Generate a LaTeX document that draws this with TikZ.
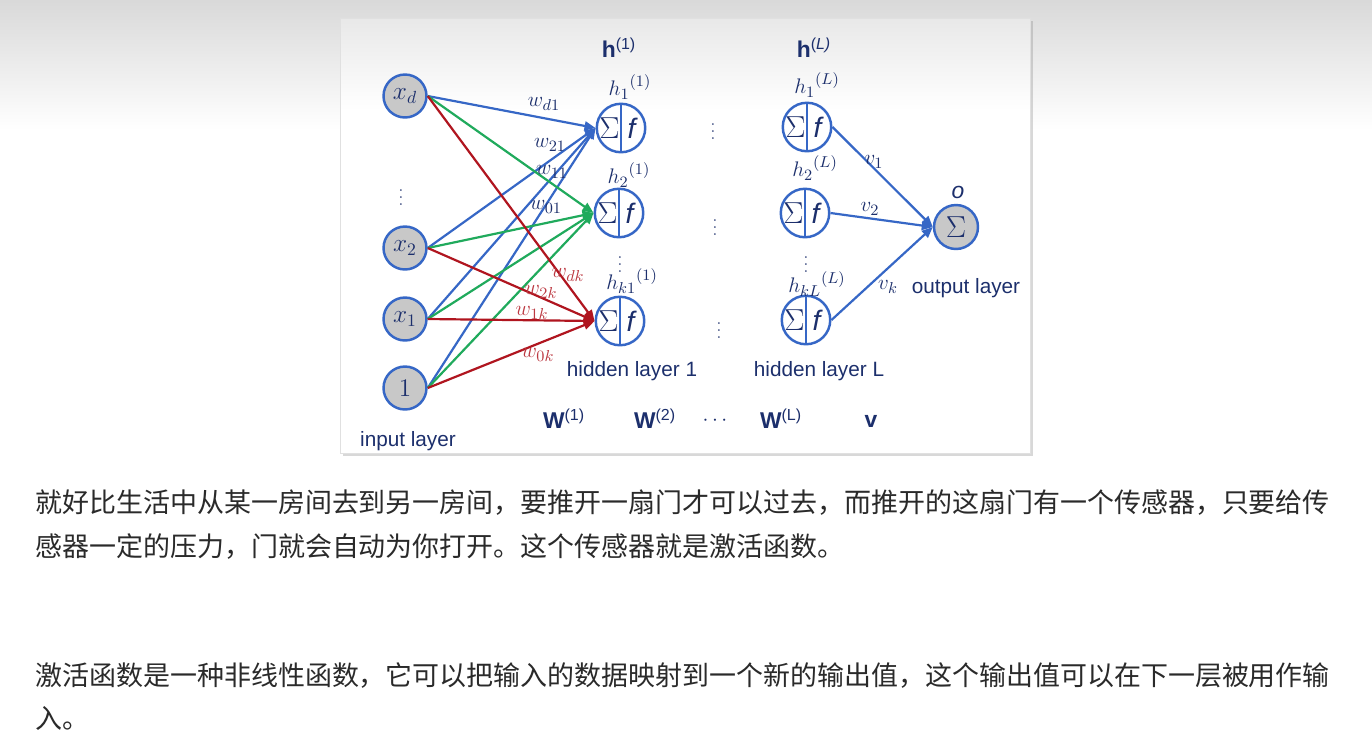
\documentclass[tikz,border=0pt]{standalone}
\usepackage{fontspec}
\setsansfont{Liberation Sans}
\newfontfamily\cjkfont{Noto Sans CJK SC}
\usepackage{xcolor}
\usetikzlibrary{arrows.meta,shadows}
\definecolor{NetBlue}{HTML}{3667C6}
\definecolor{NetGreen}{HTML}{20AA5C}
\definecolor{NetRed}{HTML}{B0151F}
\definecolor{NetNavy}{HTML}{1C2F6C}
\definecolor{NetGray}{HTML}{C8C8C8}
\definecolor{PageText}{HTML}{2A2A2A}
\tikzset{
  innode/.style={circle,draw=NetBlue,fill=NetGray,line width=1.4pt,minimum size=8.6mm,inner sep=0pt,text=NetNavy,font=\fontsize{14}{16}\selectfont},
  neuron/.style={circle,draw=NetBlue,fill=white,line width=1.4pt,minimum size=9.7mm,inner sep=0pt,
    path picture={
      \draw[NetBlue,line width=1.4pt] (path picture bounding box.north) -- (path picture bounding box.south);
      \node[inner sep=0pt,text=NetNavy,font=\fontsize{17}{18}\selectfont] at ([xshift=-2.3mm]path picture bounding box.center) {$\Sigma$};
      \node[inner sep=0pt,text=NetNavy,font=\sffamily\itshape\fontsize{16}{18}\selectfont] at ([xshift=2.1mm]path picture bounding box.center) {f};
    }},
  outnode/.style={innode,minimum size=8.8mm,font=\fontsize{17}{18}\selectfont},
  bluewire/.style={-{Triangle[length=2.2mm,width=1.8mm]},line width=1.25pt,draw=NetBlue},
  greenwire/.style={bluewire,draw=NetGreen},
  redwire/.style={bluewire,draw=NetRed},
  wlabel/.style={text=NetNavy,inner sep=0pt,font=\fontsize{13}{15}\selectfont},
  rlabel/.style={wlabel,text=NetRed!85!white},
  hlabel/.style={wlabel,font=\fontsize{12.5}{14}\selectfont},
  layertxt/.style={text=NetNavy,inner sep=0pt,font=\sffamily\fontsize{11.8}{14}\selectfont},
  boldtxt/.style={text=NetNavy,inner sep=0pt,font=\sffamily\fontsize{13}{15}\selectfont},
  vdot/.style={text=NetNavy!80,inner sep=0pt,font=\fontsize{11}{12}\selectfont},
  bodytxt/.style={anchor=west,inner sep=0pt,text=PageText,font=\cjkfont\fontsize{15.35}{18}\selectfont}
}
\begin{document}
\begin{tikzpicture}[x=0.02cm,y=-0.02cm]
\useasboundingbox (0,0) rectangle (1372,748);
% page and card
\fill[white] (0,0) rectangle (1372,748);
\shade[top color=black!15,bottom color=white] (0,0) rectangle (1372,130);
\path[fill=white,drop shadow={opacity=.3,shadow xshift=.5mm,shadow yshift=-.6mm}] (340,18) rectangle (1030,453);
\shade[top color=black!9,bottom color=white] (340,18) rectangle (1030,110);
\draw[black!12] (340,18) rectangle (1030,453);

% input layer
\node[innode] (xd) at (405,96) {$x_d$};
\node[innode] (x2) at (405,248) {$x_2$};
\node[innode] (x1) at (405,319) {$x_1$};
\node[innode] (one) at (405,388) {$1$};
\node[vdot] (din) at (401,192) {$\vdots$};

% hidden layer 1
\node[neuron] (h1) at (621,128) {};
\node[neuron] (h2) at (619,213) {};
\node[neuron] (hk) at (620,321) {};
\node[hlabel] (lh1) at (630,87) {${h_1}^{(1)}$};
\node[hlabel] (lh2) at (629,175) {${h_2}^{(1)}$};
\node[vdot] (dh) at (620,259) {$\vdots$};
\node[hlabel] (lhk) at (632,281) {${h_{k1}}^{(1)}$};

% between layers
\node[vdot] (dm1) at (713,126) {$\vdots$};
\node[vdot] (dm2) at (715,222) {$\vdots$};
\node[vdot] (dm3) at (719,325) {$\vdots$};

% hidden layer L
\node[neuron] (g1) at (807,127) {};
\node[neuron] (g2) at (805,213) {};
\node[neuron] (gk) at (806,320) {};
\node[hlabel] (lg1) at (817,85) {${h_1}^{(L)}$};
\node[hlabel] (lg2) at (815,168) {${h_2}^{(L)}$};
\node[vdot] (dg) at (806,259) {$\vdots$};
\node[hlabel] (lgk) at (817,284) {${h_{kL}}^{(L)}$};

% output layer
\node[outnode] (out) at (956,227) {$\Sigma$};
\node[boldtxt] (lo) at (958,192) {\itshape o};

% weights into h1
\draw[bluewire] (xd.east) -- (h1.west);
\draw[bluewire] (x2.east) -- (h1.west);
\draw[bluewire] (x1.east) -- (h1.west);
\draw[bluewire] (one.east) -- (h1.west);
% weights into h2
\draw[greenwire] (xd.east) -- (h2.west);
\draw[greenwire] (x2.east) -- (h2.west);
\draw[greenwire] (x1.east) -- (h2.west);
\draw[greenwire] (one.east) -- (h2.west);
% weights into hk
\draw[redwire] (xd.east) -- (hk.west);
\draw[redwire] (x2.east) -- (hk.west);
\draw[redwire] (x1.east) -- (hk.west);
\draw[redwire] (one.east) -- (hk.west);
% output weights
\draw[bluewire] (g1.east) -- (out.west);
\draw[bluewire] (g2.east) -- (out.west);
\draw[bluewire] (gk.east) -- (out.west);

\node[wlabel] (wd1) at (544,104) {$w_{d1}$};
\node[wlabel] (w21) at (550,145) {$w_{21}$};
\node[wlabel] (w11) at (552,172) {$w_{11}$};
\node[wlabel] (w01) at (546,207) {$w_{01}$};
\node[rlabel] (wdk) at (568,275) {$w_{dk}$};
\node[rlabel] (w2k) at (541,292) {$w_{2k}$};
\node[rlabel] (w1k) at (532,313) {$w_{1k}$};
\node[rlabel] (w0k) at (538,355) {$w_{0k}$};
\node[wlabel] (v1) at (874,162) {$v_1$};
\node[wlabel] (v2) at (870,209) {$v_2$};
\node[wlabel] (vk) at (888,287) {$v_k$};

% layer names
\node[boldtxt] (thone) at (619,48) {{\bfseries h}\textsuperscript{(1)}};
\node[boldtxt] (thL) at (814,48) {{\bfseries h}\textsuperscript{(\itshape L\/)}};
\node[layertxt] (tin) at (408,441) {input layer};
\node[layertxt] (thid1) at (632,371) {hidden layer 1};
\node[layertxt] (thidL) at (819,371) {hidden layer L};
\node[layertxt] (tout) at (966,288) {output layer};
\node[boldtxt] (tw1) at (564,419) {{\bfseries W}\textsuperscript{(1)}};
\node[boldtxt] (tw2) at (655,419) {{\bfseries W}\textsuperscript{(2)}};
\node[boldtxt] (tdots) at (715,421) {$\cdots$};
\node[boldtxt] (twL) at (781,419) {{\bfseries W}\textsuperscript{(L)}};
\node[boldtxt] (tv) at (871,421) {\bfseries v};

% page text
\node[bodytxt] (par1a) at (35,503) {就好比生活中从某一房间去到另一房间，要推开一扇门才可以过去，而推开的这扇门有一个传感器，只要给传};
\node[bodytxt] (par1b) at (35,547) {感器一定的压力，门就会自动为你打开。这个传感器就是激活函数。};
\node[bodytxt] (par2a) at (35,676) {激活函数是一种非线性函数，它可以把输入的数据映射到一个新的输出值，这个输出值可以在下一层被用作输};
\node[bodytxt] (par2b) at (35,718) {入。};
\end{tikzpicture}
\end{document}
